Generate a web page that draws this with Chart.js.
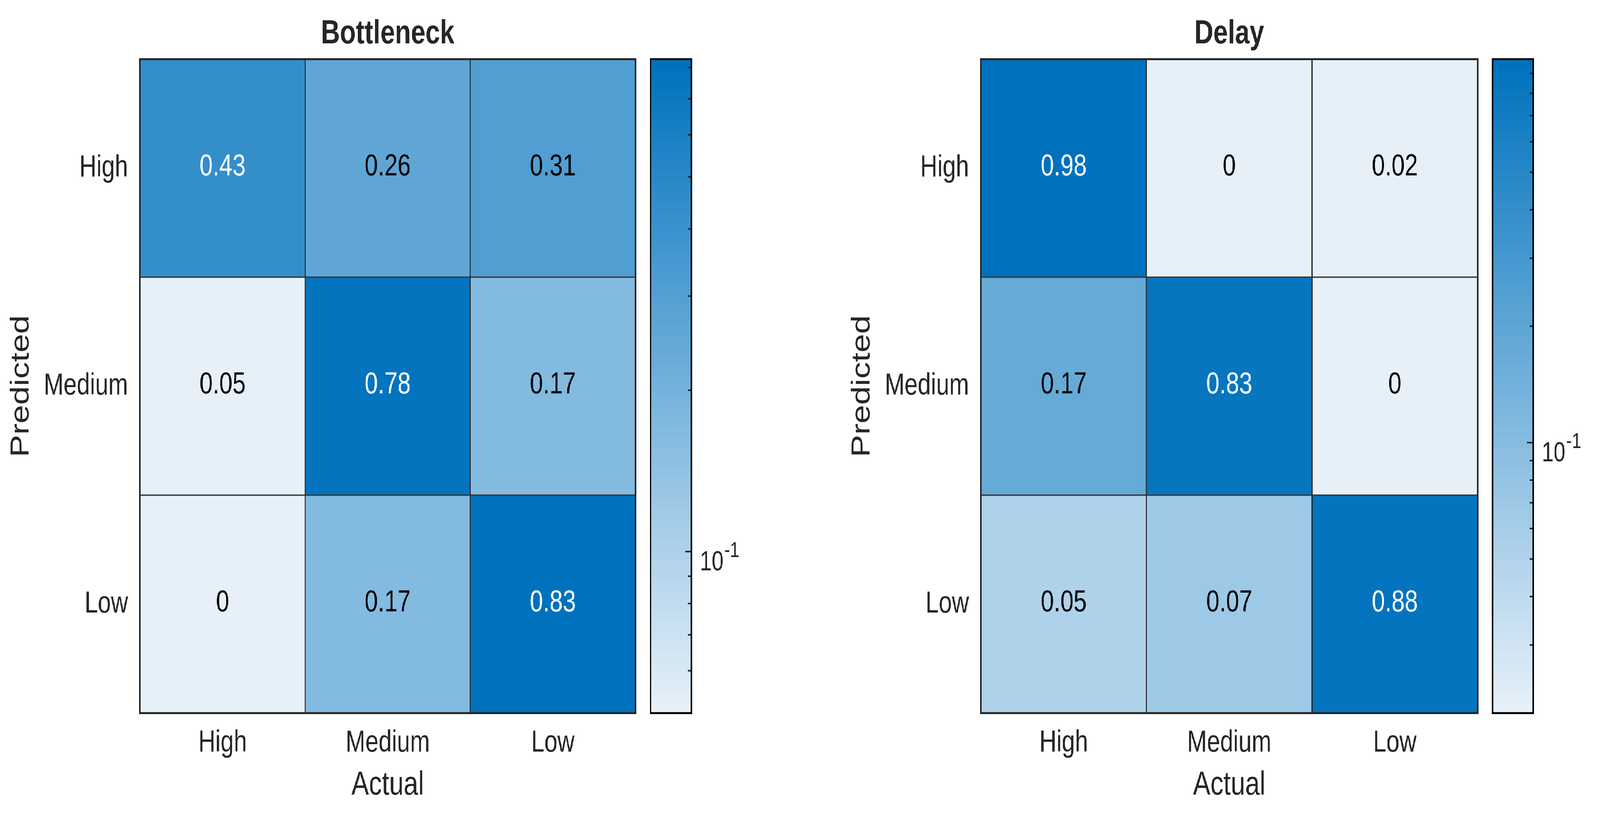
<!DOCTYPE html>
<html>
<head>
<meta charset="utf-8">
<script src="https://cdn.jsdelivr.net/npm/chart.js@4.4.1/dist/chart.umd.min.js"></script>
<style>
html, body { margin:0; padding:0; background:#ffffff; overflow:hidden; }
#wrap { position:absolute; left:0; top:0; width:5274px; height:2117px; transform-origin:0 0; background:#ffffff; }
canvas { position:absolute; top:0; }
</style>
</head>
<body>
<div id="wrap">
<canvas id="hm1"></canvas>
<canvas id="cb1"></canvas>
<canvas id="hm2"></canvas>
<canvas id="cb2"></canvas>
</div>
<script>
// ---------------- data ----------------
const actualLabels = ['High', 'Medium', 'Low'];      // x categories (columns)
const predictedLabels = ['High', 'Medium', 'Low'];   // y categories (rows, top to bottom)
const bottleneckValues = [
  [0.43, 0.26, 0.31],
  [0.05, 0.78, 0.17],
  [0.00, 0.17, 0.83]
];
const delayValues = [
  [0.98, 0.00, 0.02],
  [0.17, 0.83, 0.00],
  [0.05, 0.07, 0.88]
];
const panelTitles = ['Bottleneck', 'Delay'];
const xAxisTitle = 'Actual';
const yAxisTitle = 'Predicted';
const colorbarMajorTicks = [0.1];
const colorbarMajorLabels = [['10', '-1']];

// map the 5274x2117 design onto the actual viewport
(function () {
  const sx = (window.innerWidth || 5274) / 5274;
  const sy = (window.innerHeight || 2117) / 2117;
  document.getElementById('wrap').style.transform = 'scale(' + sx + ',' + sy + ')';
})();

// ---------------- styling ----------------
const FONT = "'Liberation Sans', Arial, Helvetica, sans-serif";
const TEXT = '#262626';
const LIGHT = [230, 240, 249];
const DARK = [0, 114, 189];
const NCOL = 64;

function cmapRGB(i) {
  const f = i / (NCOL - 1);
  return LIGHT.map((c, k) => Math.round(c + (DARK[k] - c) * f));
}
function rgbStr(c) { return 'rgb(' + c[0] + ',' + c[1] + ',' + c[2] + ')'; }
function colorIndex(v, lo, hi) {
  if (!(v > 0)) return 0;
  let t = (Math.log(v) - Math.log(lo)) / (Math.log(hi) - Math.log(lo));
  t = Math.max(0, Math.min(1, t));
  return Math.min(NCOL - 1, Math.floor(t * NCOL));
}
function limits(values) {
  const nz = values.flat().filter(v => v > 0);
  return [Math.min(...nz), Math.max(...nz)];
}
function fmt(v) { return v === 0 ? '0' : String(v); }

// plugin: cell labels + outer frame
const cellPlugin = {
  id: 'cellPlugin',
  afterDatasetsDraw(chart) {
    const ctx = chart.ctx;
    ctx.save();
    ctx.font = '78px ' + FONT;
    ctx.textAlign = 'center';
    ctx.textBaseline = 'middle';
    chart.data.datasets.forEach((ds, di) => {
      const meta = chart.getDatasetMeta(di);
      meta.data.forEach((el, j) => {
        const v = ds.cellValues[j];
        const c = ds.cellRGB[j];
        const lum = (0.299 * c[0] + 0.587 * c[1] + 0.114 * c[2]) / 255;
        ctx.fillStyle = lum < 0.5 ? '#ffffff' : '#000000';
        ctx.fillText(fmt(v), el.x, (el.y + el.base) / 2 - 3);
      });
    });
    const a = chart.chartArea;
    ctx.strokeStyle = TEXT;
    ctx.lineWidth = 5;
    ctx.strokeRect(a.left, a.top, a.right - a.left, a.bottom - a.top);
    ctx.restore();
  }
};

function makeHeatmap(id, left, padRight, title, values) {
  const canvas = document.getElementById(id);
  const W = 2124, H = 2117;
  canvas.width = W; canvas.height = H;
  canvas.style.left = left + 'px';
  canvas.style.width = W + 'px'; canvas.style.height = H + 'px';
  const [lo, hi] = limits(values);
  const nRows = predictedLabels.length;
  const datasets = [];
  for (let r = nRows - 1; r >= 0; r--) {
    const rgbs = values[r].map(v => cmapRGB(colorIndex(v, lo, hi)));
    datasets.push({
      label: predictedLabels[r],
      data: actualLabels.map(() => 1),
      cellValues: values[r],
      cellRGB: rgbs,
      backgroundColor: rgbs.map(rgbStr),
      borderColor: TEXT,
      borderWidth: 2,
      borderSkipped: false,
      barPercentage: 1,
      categoryPercentage: 1
    });
  }
  new Chart(canvas, {
    type: 'bar',
    data: { labels: actualLabels, datasets },
    options: {
      responsive: false,
      animation: false,
      devicePixelRatio: 1,
      layout: { padding: { left: 0, right: padRight, top: 0, bottom: 0 } },
      plugins: {
        legend: { display: false },
        tooltip: { enabled: false },
        title: {
          display: true, text: title, fullSize: false, color: TEXT,
          font: { family: FONT, size: 86, weight: 'bold', lineHeight: 1.2 },
          padding: { top: 36, bottom: 12.3 }
        }
      },
      scales: {
        x: {
          stacked: true,
          grid: { display: false, drawTicks: false },
          border: { display: false },
          ticks: { color: TEXT, font: { family: FONT, size: 78, lineHeight: 1.2 }, padding: 30, maxRotation: 0, autoSkip: false },
          title: { display: true, text: xAxisTitle, color: TEXT, font: { family: FONT, size: 86, lineHeight: 1.2 }, padding: { top: 0, bottom: 55 } },
          afterFit: s => { s.height = 291.5; }
        },
        y: {
          stacked: true, min: 0, max: nRows,
          grid: { display: false, drawTicks: false },
          border: { display: false },
          afterBuildTicks: s => { s.ticks = predictedLabels.map((_, i) => ({ value: i + 0.5 })); },
          ticks: {
            color: TEXT, font: { family: FONT, size: 78, lineHeight: 1.2 }, padding: 39.5, autoSkip: false,
            callback: v => predictedLabels[nRows - 1 - Math.floor(v)]
          },
          title: { display: true, text: yAxisTitle, color: TEXT, font: { family: FONT, size: 86, lineHeight: 1.2 }, padding: { top: 18.4, bottom: 0 } },
          afterFit: s => { s.width = 461.5; }
        }
      }
    },
    plugins: [cellPlugin]
  });
}

// plugin: colorbar ticks, labels and frame
const colorbarPlugin = {
  id: 'colorbarPlugin',
  afterDraw(chart) {
    const ctx = chart.ctx;
    const a = chart.chartArea;
    const ys = chart.scales.y;
    const lo = ys.min, hi = ys.max;
    ctx.save();
    ctx.strokeStyle = TEXT;
    ctx.lineWidth = 4;
    ys.ticks.forEach(t => {
      const v = t.value;
      if (v <= lo * 1.0001 || v >= hi * 0.9999) return;
      const lg = Math.log10(v);
      const major = Math.abs(lg - Math.round(lg)) < 1e-9;
      const len = major ? 18 : 9;
      const y = Math.round(ys.getPixelForValue(v));
      ctx.beginPath();
      ctx.moveTo(a.right - 2.5, y);
      ctx.lineTo(a.right - 2.5 - len, y);
      ctx.stroke();
    });
    ctx.strokeStyle = '#000000';
    ctx.lineWidth = 5;
    ctx.strokeRect(a.left, a.top, a.right - a.left, a.bottom - a.top);
    ctx.fillStyle = TEXT;
    ctx.textAlign = 'left';
    ctx.textBaseline = 'alphabetic';
    colorbarMajorTicks.forEach((v, i) => {
      if (v < lo || v > hi) return;
      const y = ys.getPixelForValue(v);
      const x0 = a.right + 2.5 + 26;
      ctx.font = '70px ' + FONT;
      const base = colorbarMajorLabels[i][0];
      ctx.fillText(base, x0, y + 48);
      const w = ctx.measureText(base).width;
      ctx.font = '56px ' + FONT;
      ctx.fillText(colorbarMajorLabels[i][1], x0 + w + 3, y + 14);
    });
    ctx.restore();
  }
};

function makeColorbar(id, left, width, padLeft, values) {
  const canvas = document.getElementById(id);
  const H = 2117;
  canvas.width = width; canvas.height = H;
  canvas.style.left = left + 'px';
  canvas.style.width = width + 'px'; canvas.style.height = H + 'px';
  const [lo, hi] = limits(values);
  const barW = 134;
  new Chart(canvas, {
    type: 'bar',
    data: {
      labels: [''],
      datasets: [{
        data: [[lo, hi]],
        backgroundColor: c => {
          const ca = c.chart.chartArea;
          if (!ca) return rgbStr(cmapRGB(NCOL - 1));
          const g = c.chart.ctx.createLinearGradient(0, ca.bottom, 0, ca.top);
          for (let i = 0; i < NCOL; i++) {
            const col = rgbStr(cmapRGB(i));
            g.addColorStop(i / NCOL, col);
            g.addColorStop((i + 1) / NCOL, col);
          }
          return g;
        },
        borderWidth: 0,
        barPercentage: 1,
        categoryPercentage: 1
      }]
    },
    options: {
      responsive: false,
      animation: false,
      devicePixelRatio: 1,
      layout: { padding: { left: padLeft, right: width - padLeft - barW, top: 151.5, bottom: 291.5 } },
      plugins: { legend: { display: false }, tooltip: { enabled: false } },
      scales: {
        x: { display: false },
        y: {
          type: 'logarithmic', display: false, min: lo, max: hi,
          afterBuildTicks: s => {
            const ticks = [];
            for (let e = Math.floor(Math.log10(lo)); e <= Math.floor(Math.log10(hi)); e++) {
              for (let m = 1; m <= 9; m++) {
                const v = Math.round(m * Math.pow(10, e) * 1e9) / 1e9;
                if (v > lo && v < hi) ticks.push({ value: v });
              }
            }
            s.ticks = ticks;
          }
        }
      }
    },
    plugins: [colorbarPlugin]
  });
}

makeHeatmap('hm1', 0, 29.5, panelTitles[0], bottleneckValues);
makeColorbar('cb1', 2110, 400, 34.5, bottleneckValues);
makeHeatmap('hm2', 2771.5, 25.5, panelTitles[1], delayValues);
makeColorbar('cb2', 4880, 394, 39.5, delayValues);
</script>
</body>
</html>
